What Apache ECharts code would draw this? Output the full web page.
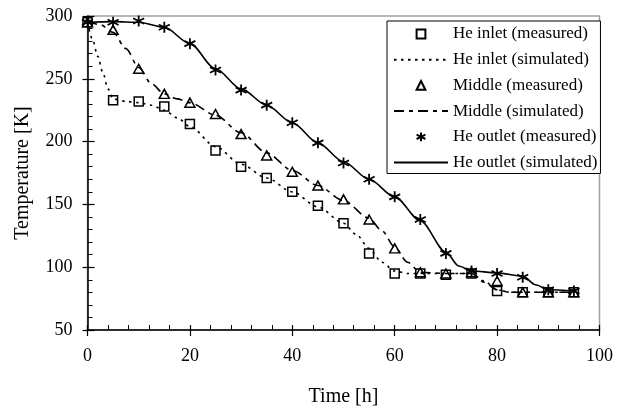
<!DOCTYPE html>
<html>
<head>
<meta charset="utf-8">
<script src="https://cdn.jsdelivr.net/npm/echarts@6/dist/echarts.min.js"></script>
<style>
html,body{margin:0;padding:0;background:#fff;}
#chart{width:624px;height:412px;}
</style>
</head>
<body>
<div id="chart"></div>
<script>
// ---- data ----
const measuredTimes = [0,5,10,15,20,25,30,35,40,45,50,55,60,65,70,75,80,85,90,95];
const inletMeasured  = [295,233,232,228,214,193,180,171,160,149,135,111,95,95,94,95,81,80,80,80];
const middleMeasured = [295,289,258,238,231,222,206,189,176,165,154,138,115,96,95,96,89,80,80,80];
const outletMeasured = [295,295,296,291,278,257,241,229,215,199,183,170,156,138,111,97,95,92,82,81];

const inletSimTimes  = [0,1,2,3,4,5,7.5,10,12.5,15,17.5,20,25,30,35,40,45,50,52.5,55,57.5,60,62.5,65,70,75,77.5,80,82.5,85,90,95];
const inletSimValues = [295,281,268,255,242,234,232,231,229,225,219,212,196,182,171,160,148,135,126,115,104,97,95,95,95,95,89,82,80,80,80,80];

const middleSimTimes  = [0,2.5,5,7.5,10,12.5,15,17.5,20,25,30,35,40,45,50,55,57.5,60,62.5,65,70,75,77.5,80,82.5,85,90,95];
const middleSimValues = [296,293,287,274,259,246,238,234,231,221,207,191,177,165,153,139,129,116,104,96,95,95,88,82,80,80,80,80];

const outletSimTimes  = [0,5,10,15,20,25,30,35,40,45,50,55,60,65,70,72.5,75,80,85,87.5,90,95];
const outletSimValues = [295,295.5,295,291,278,258,242,229,215,199,184,170,156,137,112,101,97,95.5,93,86,82,81];

const xTicks = {min:0, max:100, interval:20};
const yTicks = {min:50, max:300, interval:50};

const names = ['He inlet (measured)','He inlet (simulated)','Middle (measured)','Middle (simulated)','He outlet (measured)','He outlet (simulated)'];

// ---- build ----
const pairs = (t, v) => t.map((x, i) => [x, v[i]]);
const FONT = 'Liberation Serif';
const starPath = 'path://M5,0L5,10M0.67,2.5L9.33,7.5M0.67,7.5L9.33,2.5';

const hollow = {color:'rgba(255,255,255,0)', borderColor:'#000', borderWidth:1.5};
const hiddenLine = {color:'#000', width:0, opacity:0};

function measured(name, symbol, size, values, style) {
  return {name, type:'line', symbol, symbolSize:size, showSymbol:true, showAllSymbol:true,
    lineStyle:hiddenLine, itemStyle:style, z:5, data:pairs(measuredTimes, values)};
}
function simulated(name, t, v, dash, smooth) {
  return {name, type:'line', symbol:'none', smooth, smoothMonotone:'x',
    lineStyle:{color:'#000', width:1.6, type:dash}, itemStyle:{color:'#000'},
    data:pairs(t, v)};
}

const chart = echarts.init(document.getElementById('chart'), null, {renderer:'canvas'});
const baseAxisLine = {show:true, onZero:false, lineStyle:{color:'#000', width:1.5}};

chart.setOption({
  animation:false,
  backgroundColor:'#fff',
  grid:{left:87.5, right:24.5, top:16, bottom:80, show:true, borderColor:'#a0a0a0', borderWidth:1.5, backgroundColor:'rgba(0,0,0,0)'},
  legend:{
    orient:'vertical', left:387, top:21,
    itemWidth:54, itemHeight:11, itemGap:7.7,
    padding:[4,3,2,6],
    borderColor:'#000', borderWidth:1, borderRadius:0, backgroundColor:'#fff',
    textStyle:{fontFamily:FONT, fontSize:17, color:'#000', lineHeight:18},
    data:names.map((n, i) => i % 2 === 1 ? {name:n, itemStyle:{opacity:0}} : {name:n})
  },
  xAxis:[
    {type:'value', position:'bottom', min:xTicks.min, max:xTicks.max, interval:xTicks.interval,
     axisLine:baseAxisLine,
     axisTick:{show:true, inside:true, length:5, lineStyle:{color:'#000', width:1.2}},
     minorTick:{show:true, splitNumber:5, length:5, lineStyle:{color:'#000', width:1}},
     axisLabel:{fontFamily:FONT, fontSize:18, color:'#000', margin:17},
     splitLine:{show:false},
     name:'Time [h]', nameLocation:'middle', nameGap:57,
     nameTextStyle:{fontFamily:FONT, fontSize:20, color:'#000'}},
    {type:'value', position:'bottom', min:xTicks.min, max:xTicks.max, interval:xTicks.interval,
     axisLine:{show:false, onZero:false},
     axisTick:{show:true, inside:false, length:6, lineStyle:{color:'#000', width:1.2}},
     axisLabel:{show:false}, splitLine:{show:false}}
  ],
  yAxis:[
    {type:'value', position:'left', min:yTicks.min, max:yTicks.max, interval:yTicks.interval,
     axisLine:baseAxisLine,
     axisTick:{show:true, inside:true, length:7, lineStyle:{color:'#000', width:1.2}},
     minorTick:{show:true, splitNumber:5, length:5, lineStyle:{color:'#000', width:1}},
     axisLabel:{fontFamily:FONT, fontSize:18, color:'#000', margin:15},
     splitLine:{show:false},
     name:'Temperature [K]', nameLocation:'middle', nameGap:55,
     nameTextStyle:{fontFamily:FONT, fontSize:20, color:'#000'}},
    {type:'value', position:'left', min:yTicks.min, max:yTicks.max, interval:yTicks.interval,
     axisLine:{show:false, onZero:false},
     axisTick:{show:true, inside:false, length:5, lineStyle:{color:'#000', width:1.2}},
     axisLabel:{show:false}, splitLine:{show:false}}
  ],
  series:[
    measured(names[0], 'rect', 9, inletMeasured, hollow),
    simulated(names[1], inletSimTimes, inletSimValues, [2.5,4.5], 0.3),
    measured(names[2], 'triangle', [10,9], middleMeasured, hollow),
    simulated(names[3], middleSimTimes, middleSimValues, [10,5,4,5], 0.3),
    measured(names[4], starPath, 11, outletMeasured, {color:'rgba(0,0,0,0)', borderColor:'#000', borderWidth:1.8}),
    simulated(names[5], outletSimTimes, outletSimValues, 'solid', 0.3)
  ]
});
</script>
</body>
</html>
